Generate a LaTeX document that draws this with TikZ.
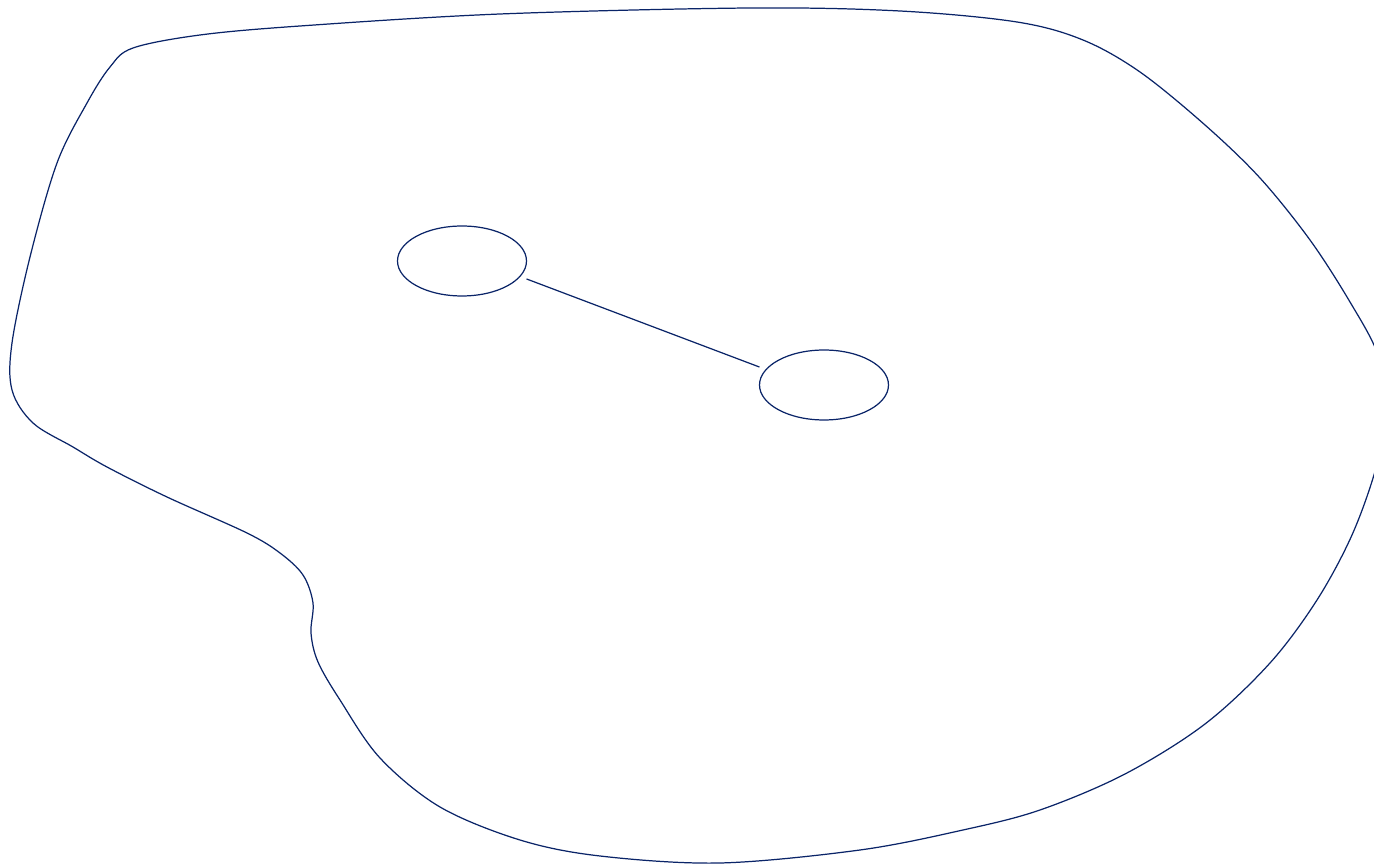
\documentclass[tikz,border=0pt]{standalone}
\usetikzlibrary{shapes.geometric}
\definecolor{navy}{RGB}{10,36,104}
\begin{document}
\begin{tikzpicture}[x=0.02cm,y=-0.02cm,
  outline/.style={draw=navy,line width=0.7pt},
  blob/.style={ellipse,draw=navy,line width=0.7pt,minimum width=2.58cm,minimum height=1.4cm,inner sep=0pt}]
\useasboundingbox (0,0) rectangle (1374,864);
\clip (0,0) rectangle (1374,864);
\draw[outline] plot[smooth cycle,tension=0.55] coordinates {
 (200,35) (300,26) (500,14) (750,8) (900,11) (1017,22) (1083,40) (1140,72)
 (1205,125) (1260,178) (1310,240) (1350,302) (1378,355) (1387,410) (1376,468)
 (1352,535) (1317,600) (1270,663) (1205,724) (1125,774) (1040,810) (963,830)
 (860,850) (720,863) (600,856) (520,840) (440,807) (380,758) (340,700)
 (318,662) (311,633) (313,603) (303,575) (280,553) (247,533) (167,497)
 (107,467) (73,447) (33,423) (12,390) (12,343) (30,257) (57,163) (87,103)
 (110,67) (133,48)};
\node[blob] (e1) at (462,261) {};
\node[blob] (e2) at (824,385) {};
\draw[outline,shorten <=0.13cm,shorten >=0.13cm] (e1.-15.5) -- (e2.165);
\end{tikzpicture}
\end{document}
